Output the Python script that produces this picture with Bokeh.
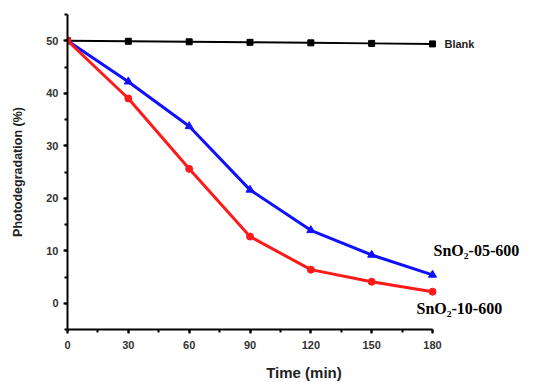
from bokeh.plotting import figure
from bokeh.models import Label, SingleIntervalTicker, Range1d
from bokeh.embed import file_html
from bokeh.resources import INLINE

time_min = [0, 30, 60, 90, 120, 150, 180]
blank = [50.0, 49.9, 49.8, 49.7, 49.6, 49.5, 49.4]
sno2_05_600 = [50.0, 42.2, 33.7, 21.6, 13.9, 9.2, 5.4]
sno2_10_600 = [50.0, 39.0, 25.6, 12.7, 6.4, 4.1, 2.2]

W, H = 542, 383
left, top, bottom = 67, 14, 50
frame_w = W - left - 2
x_end = frame_w * 180 / 365.0

p = figure(width=W, height=H, output_backend="svg", toolbar_location=None,
           x_range=Range1d(0, x_end), y_range=Range1d(-5, 55),
           min_border_left=left, min_border_right=W - left - frame_w,
           min_border_top=top, min_border_bottom=bottom)
p.outline_line_color = None
p.xgrid.visible = False
p.ygrid.visible = False
p.background_fill_color = "white"

p.line(time_min, blank, color="black", line_width=2)
p.scatter(time_min, blank, marker="square", size=6, color="black")
p.line(time_min, sno2_05_600, color="#1010ff", line_width=3)
p.scatter(time_min, sno2_05_600, marker="triangle", size=8, color="#1010ff")
p.line(time_min, sno2_10_600, color="#ff1a1a", line_width=3)
p.scatter(time_min, sno2_10_600, marker="circle", size=7, color="#ff1a1a")

p.xaxis.ticker = SingleIntervalTicker(interval=30, num_minor_ticks=2)
p.yaxis.ticker = SingleIntervalTicker(interval=10, num_minor_ticks=2)
p.xaxis.bounds = (0, 180)
for ax in (p.xaxis[0], p.yaxis[0]):
    ax.axis_line_width = 2
    ax.axis_line_color = "black"
    ax.major_tick_line_width = 2
    ax.minor_tick_line_width = 2
    ax.major_tick_out = 4
    ax.major_tick_in = 0
    ax.minor_tick_out = 3
    ax.minor_tick_in = 0
    ax.major_label_text_font = "Liberation Sans"
    ax.major_label_text_font_style = "bold"
    ax.major_label_text_font_size = "11px"
    ax.major_label_text_color = "#333333"
    ax.axis_label_text_font = "Liberation Sans"
    ax.axis_label_text_font_style = "bold"
    ax.axis_label_text_color = "#222222"

p.xaxis.major_label_standoff = 7
p.yaxis.major_label_standoff = 5
p.xaxis.axis_label = "Time (min)"
p.xaxis.axis_label_text_font_size = "15px"
p.xaxis.axis_label_standoff = 12
p.yaxis.axis_label = "Photodegradation (%)"
p.yaxis.axis_label_text_font_size = "12.5px"
p.yaxis.axis_label_standoff = 18

p.add_layout(Label(x=185.9, y=49.4, text="Blank", text_font="Liberation Sans",
                   text_font_style="bold", text_font_size="11px", text_color="#222222",
                   text_baseline="middle"))
p.add_layout(Label(x=180.5, y=10.1, text="SnO\u2082-05-600", text_font="Liberation Serif",
                   text_font_style="bold", text_font_size="16px", text_color="black",
                   text_baseline="middle"))
p.add_layout(Label(x=172.1, y=-1.0, text="SnO\u2082-10-600", text_font="Liberation Serif",
                   text_font_style="bold", text_font_size="16px", text_color="black",
                   text_baseline="middle"))

open("out.html", "w").write(file_html(p, INLINE))
